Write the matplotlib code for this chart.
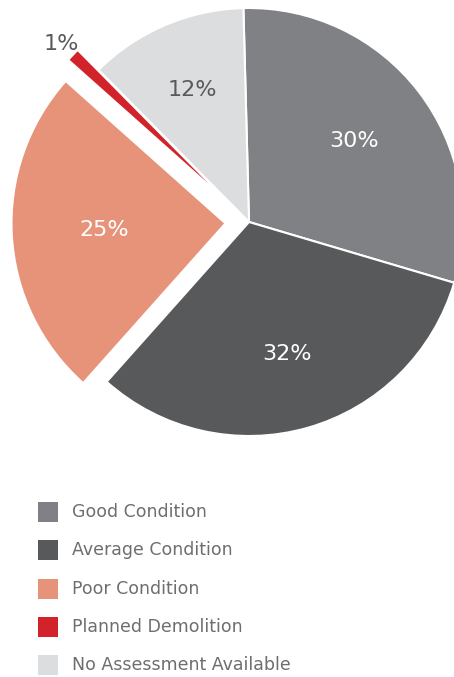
import numpy as np
import matplotlib
matplotlib.use('Agg')
import matplotlib.pyplot as plt
from matplotlib.patches import Rectangle

plt.rcParams['font.family'] = ['DejaVu Sans']

# Дані
categories = ['Good Condition', 'Average Condition', 'Poor Condition',
              'Planned Demolition', 'No Assessment Available']
values = [30, 32, 25, 1, 12]
pct_labels = ['30%', '32%', '25%', '1%', '12%']
colors = ['#808184', '#58595b', '#e6937a', '#d2232a', '#dcdddf']
explode = [0, 0, 0.11, 0.26, 0]

W, H = 454, 677
R = 214.0          # радіус у пікселях
cx, cy = 249, 222  # центр у пікселях (від верху)

fig = plt.figure(figsize=(W / 100, H / 100), dpi=100)
ax = fig.add_axes([0, 0, 1, 1])

wedges, _ = ax.pie(values, colors=colors, explode=explode, startangle=91.5,
                   counterclock=False, radius=1,
                   wedgeprops=dict(edgecolor='white', linewidth=1.5))
# pie перезаписує межі, тому ставимо їх після
ax.set_xlim(-cx / R, (W - cx) / R)
ax.set_ylim(-(H - cy) / R, cy / R)
ax.set_aspect('equal')
ax.axis('off')

# маленький червоний сектор без білої обводки і коротший
wedges[3].set_linewidth(0)
wedges[3].set_radius(0.87)

# підписи відсотків
dist = [0.62, 0.64, 0.57, 0.95, 0.67]
txt_col = ['white', 'white', 'white', '#58595b', '#58595b']
for w, lab, d, c in zip(wedges, pct_labels, dist, txt_col):
    th = np.deg2rad((w.theta1 + w.theta2) / 2)
    x0, y0 = w.center
    ax.text(x0 + d * np.cos(th), y0 + d * np.sin(th), lab, color=c,
            fontsize=16, ha='center', va='center')

# легенда
for i, (name, col) in enumerate(zip(categories, colors)):
    ym = 512 + i * 38.3
    fig.patches.append(Rectangle((38 / W, 1 - (ym + 10) / H), 20 / W, 20 / H,
                                 facecolor=col, edgecolor='none',
                                 transform=fig.transFigure, figure=fig))
    fig.text(72 / W, 1 - ym / H, name, color='#6d6e71', fontsize=12.5,
             ha='left', va='center')

fig.savefig('out.png', dpi=100)
